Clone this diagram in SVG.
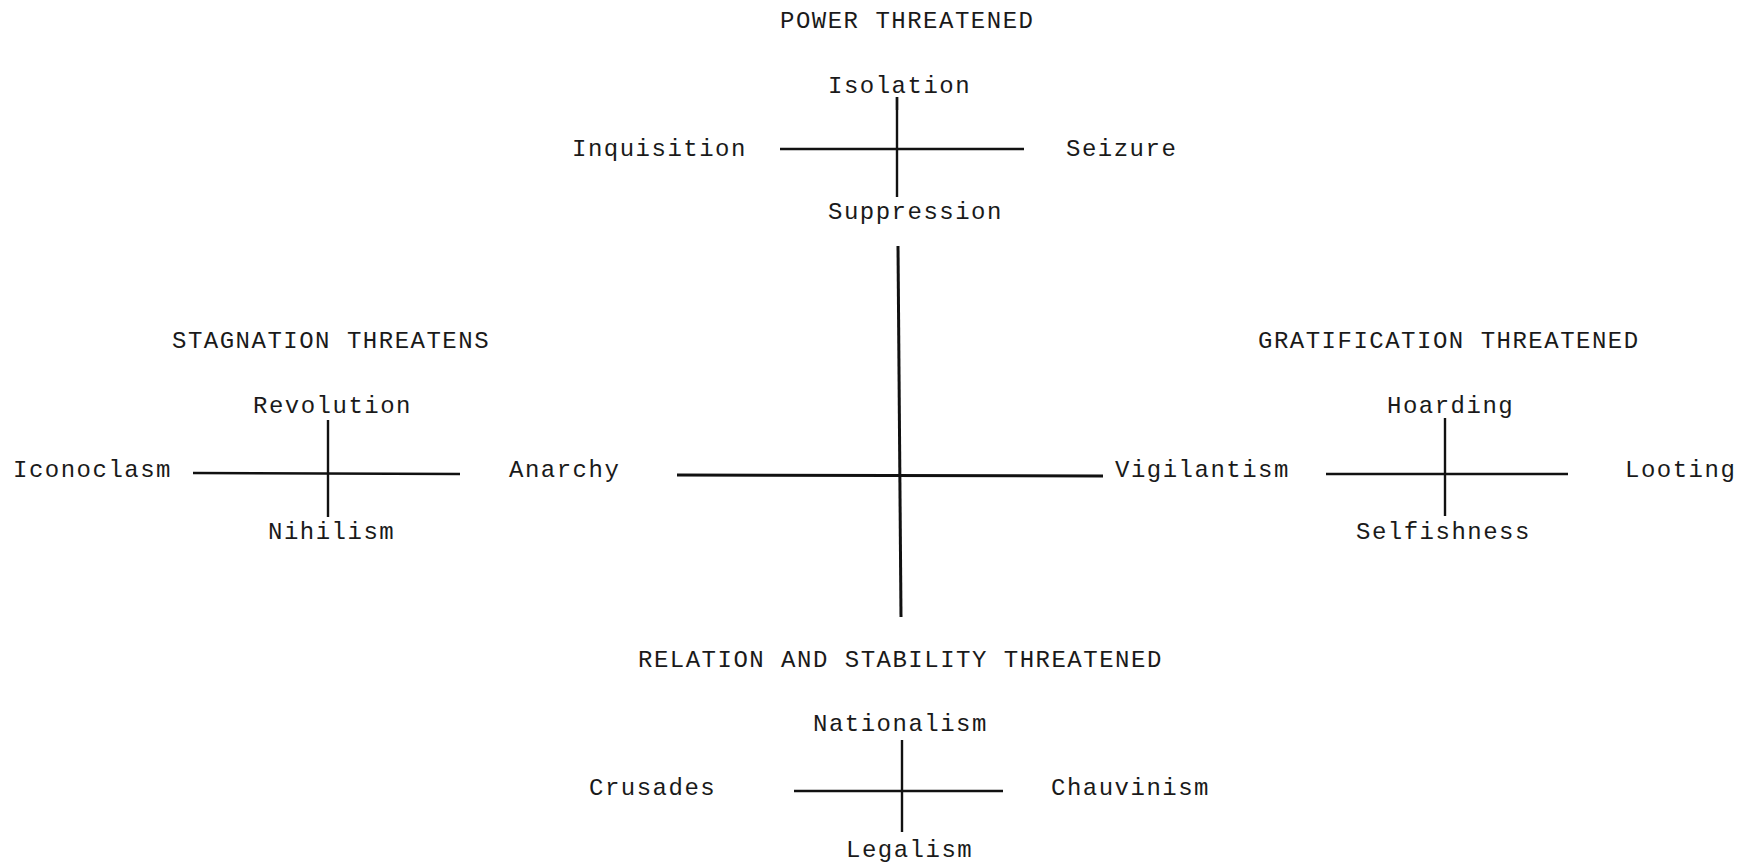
<svg xmlns="http://www.w3.org/2000/svg" width="1754" height="867" viewBox="0 0 1754 867">
  <style>
    text { font-family: "Liberation Mono", "DejaVu Sans Mono", monospace; font-size: 24px; letter-spacing: 1.5px; fill: #1a1a1a; }
    .axis { stroke: #111; stroke-width: 2.4; stroke-linecap: butt; fill: none; }
    .axis-main { stroke: #111; stroke-width: 3; fill: none; }
  </style>
  <rect width="1754" height="867" fill="#ffffff"/>

  <!-- axes -->
  <g id="connectors">
    <!-- central cross -->
    <line class="axis-main" x1="898" y1="246" x2="901" y2="617"/>
    <line class="axis-main" x1="677" y1="475" x2="1103" y2="476"/>
    <!-- power cross, with the ink blot at its upper end -->
    <line class="axis" x1="897" y1="97" x2="897" y2="197"/>
    <line class="axis" x1="897" y1="97" x2="897" y2="110" stroke-width="4"/>
    <line class="axis" x1="780" y1="149" x2="1024" y2="149"/>
    <!-- stagnation cross -->
    <line class="axis" x1="328" y1="420" x2="328" y2="517"/>
    <line class="axis" x1="193" y1="473" x2="460" y2="474"/>
    <!-- gratification cross -->
    <line class="axis" x1="1445" y1="418" x2="1445" y2="516"/>
    <line class="axis" x1="1326" y1="474" x2="1568" y2="474"/>
    <!-- relation cross -->
    <line class="axis" x1="902" y1="740" x2="902" y2="832"/>
    <line class="axis" x1="794" y1="791" x2="1003" y2="791"/>
  </g>

  <g id="power">
    <text x="780" y="28">POWER THREATENED</text>
    <text x="828" y="93">Isolation</text>
    <text x="572" y="156">Inquisition</text>
    <text x="1066" y="156">Seizure</text>
    <text x="828" y="219">Suppression</text>
  </g>

  <g id="stagnation">
    <text x="172" y="348">STAGNATION THREATENS</text>
    <text x="253" y="413">Revolution</text>
    <text x="13" y="477">Iconoclasm</text>
    <text x="509" y="477">Anarchy</text>
    <text x="268" y="539">Nihilism</text>
  </g>

  <g id="gratification">
    <text x="1258" y="348">GRATIFICATION THREATENED</text>
    <text x="1387" y="413">Hoarding</text>
    <text x="1115" y="477">Vigilantism</text>
    <text x="1625" y="477">Looting</text>
    <text x="1356" y="539">Selfishness</text>
  </g>

  <g id="relation">
    <text x="638" y="667">RELATION AND STABILITY THREATENED</text>
    <text x="813" y="731">Nationalism</text>
    <text x="589" y="795">Crusades</text>
    <text x="1051" y="795">Chauvinism</text>
    <text x="846" y="857">Legalism</text>
  </g>
</svg>
